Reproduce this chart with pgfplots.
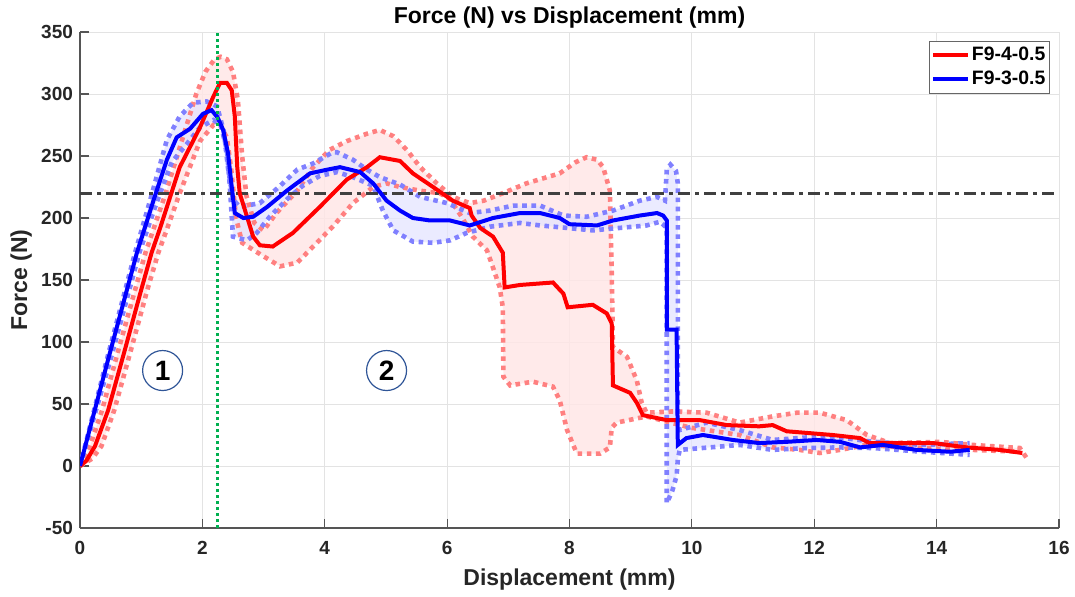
\documentclass[border=0pt]{standalone}
\usepackage{fontspec}
\setmainfont{Liberation Sans}
\usepackage{pgfplots}
\pgfplotsset{compat=1.18}
\usepgfplotslibrary{fillbetween}
\definecolor{redband}{HTML}{FF8080}
\definecolor{blueband}{HTML}{8080FF}
\definecolor{redfill}{HTML}{FFE6E6}
\definecolor{bluefill}{HTML}{E3E3FF}
\definecolor{axcol}{HTML}{555555}
\definecolor{gridcol}{HTML}{E3E3E3}
\definecolor{txtcol}{HTML}{262626}
\definecolor{circcol}{HTML}{2F5597}
\definecolor{greenline}{HTML}{00B050}
\definecolor{refline}{HTML}{404040}

\begin{document}
\begin{tikzpicture}
\begin{axis}[
    at={(0,0)}, anchor=south west,
    scale only axis, width=489.5pt, height=248pt,
    xmin=0, xmax=16, ymin=-50, ymax=350,
    xtick={0,2,...,16}, ytick={-50,0,...,350},
    xticklabels={0,2,4,6,8,10,12,14,16},
    yticklabels={-50,0,50,100,150,200,250,300,350},
    axis x line*=bottom, axis y line*=left,
    axis line style={draw=axcol, line width=0.6pt},
    tick style={draw=axcol, line width=0.6pt},
    tick align=inside, major tick length=4.5pt,
    grid=major, grid style={gridcol, line width=0.5pt},
    ticklabel style={font=\fontsize{9.5}{10}\selectfont\bfseries, text=txtcol},
    xticklabel style={yshift=-3pt},
    title={Force (N) vs Displacement (mm)},
    title style={font=\fontsize{11.5}{13}\selectfont\bfseries, text=black,
        at={(axis description cs:0.5,1)}, anchor=center, yshift=1pt},
    xlabel={Displacement (mm)},
    xlabel style={font=\fontsize{11.5}{13}\selectfont\bfseries, text=txtcol,
        at={(axis description cs:0.5,0)}, anchor=center, yshift=-26pt},
    ylabel={Force (N)},
    ylabel style={font=\fontsize{11.5}{13}\selectfont\bfseries, text=txtcol,
        at={(axis description cs:-0.06,0.5)}, anchor=center, rotate=0},
    legend style={at={(0.991,0.982)}, anchor=north east,
        draw=black!60, line width=0.5pt, inner sep=1pt, row sep=0pt,
        font=\fontsize{9.7}{11}\selectfont\bfseries,
        nodes={text height=7.4pt, text depth=2.2pt, inner sep=1.2pt}},
    legend cell align=left,
]
% red band (F9-4-0.5)
\addplot[name path=ru, redband, line width=2.3pt, dash pattern=on 2.3pt off 2.3pt, forget plot] coordinates {
(0,0) (0.15,14) (0.36,45) (0.63,94) (0.9,142) (1.07,172) (1.4,220) (1.7,268) (1.9,300)
(2.05,318) (2.2,328) (2.3,330) (2.4,328) (2.5,318) (2.58,295) (2.65,250) (2.72,218)
(2.85,196) (3.0,190) (3.21,204) (3.55,222) (3.81,241) (4.08,255) (4.36,262) (4.69,268)
(4.9,271) (5.12,266) (5.34,255) (5.56,241) (5.83,228) (6.09,217) (6.37,212) (6.6,214)
(6.91,220) (7.3,228) (7.84,236) (8.1,245) (8.28,249) (8.45,247) (8.55,241) (8.66,222)
(8.69,156) (8.71,96) (8.94,88) (9.1,69) (9.18,51) (9.26,43) (9.69,44) (10.24,43)
(10.78,35) (11.32,40) (11.72,43) (12.09,43) (12.53,37) (12.86,25) (13.24,18.5)
(14.05,19.5) (14.59,17) (15.36,14.5) (15.47,6.5)
};
\addplot[name path=rl, redband, line width=2.3pt, dash pattern=on 2.3pt off 2.3pt, forget plot] coordinates {
(0,0) (0.2,6) (0.35,16) (0.56,45) (0.835,94) (1.1,142) (1.28,172) (1.45,195) (1.63,220)
(1.96,262) (2.18,275) (2.3,274) (2.4,265) (2.47,240) (2.55,200) (2.65,180) (2.97,170)
(3.27,161) (3.55,164) (3.81,177) (4.13,193) (4.46,212) (4.79,225) (5.01,228) (5.23,225)
(5.56,222) (5.88,220) (6.05,215) (6.25,200) (6.42,185) (6.65,174) (6.75,160) (6.86,144)
(6.91,128) (6.92,72) (7.03,65) (7.4,68) (7.73,64) (7.84,53) (7.96,29) (8.12,10) (8.5,10)
(8.66,15) (8.69,31) (8.77,35) (9.26,40) (9.97,31) (10.78,25) (11.32,15) (11.76,13)
(12.09,10.5) (12.42,13) (12.86,17) (13.51,15) (14.59,13) (15.36,11.5)
};
\addplot[redfill, fill opacity=0.85, forget plot] fill between[of=ru and rl];
% blue band (F9-3-0.5)
\addplot[name path=bu, blueband, line width=2.3pt, dash pattern=on 2.3pt off 2.3pt, forget plot] coordinates {
(0,0) (0.45,88) (0.9,172) (1.15,215) (1.42,263) (1.63,282) (1.85,293) (2.07,294)
(2.24,290) (2.35,270) (2.42,240) (2.5,215) (2.61,209) (2.94,212) (3.25,225) (3.55,239)
(3.81,244) (4.13,253) (4.2,253) (4.46,247) (4.69,239) (4.9,233) (5.23,227) (5.56,217)
(6.0,212) (6.37,204) (6.7,206) (7.08,210) (7.52,210) (7.9,202) (8.28,201) (8.71,206)
(9.15,214) (9.43,217) (9.56,214) (9.59,239) (9.65,243) (9.74,238) (9.77,228) (9.77,35)
(9.8,29) (10.24,35) (10.78,29) (11.32,21) (11.87,23) (12.42,23) (12.96,19.5) (13.77,17)
(14.54,18.5)
};
\addplot[name path=bl, blueband, line width=2.3pt, dash pattern=on 2.3pt off 2.3pt, forget plot] coordinates {
(0,0) (0.5,86) (0.97,172) (1.25,212) (1.5,245) (1.75,260) (1.96,273) (2.18,279)
(2.3,275) (2.4,255) (2.45,225) (2.5,185) (2.73,182) (2.89,188) (3.1,201) (3.38,215)
(3.64,226) (3.92,234) (4.2,237) (4.46,233) (4.79,226) (4.95,206) (5.12,190) (5.44,181)
(5.77,180) (6.05,182) (6.32,188) (6.7,193) (7.19,196) (7.52,194) (7.96,192) (8.38,190)
(8.82,192) (9.26,194) (9.48,197) (9.59,192) (9.59,-30) (9.68,-20) (9.75,-8) (9.77,5)
(9.8,13) (10.78,17) (11.32,13) (11.87,14.5) (12.42,15) (12.96,14.5) (13.77,11.5)
(14.54,9)
};
\addplot[bluefill, fill opacity=0.7, forget plot] fill between[of=bu and bl];
% 220 N reference line
\addplot[refline, line width=1.6pt, dash pattern=on 6pt off 2.5pt on 2pt off 2.5pt, forget plot]
    coordinates {(0,220) (16,220)};
% mean curves
\addplot[red, line width=2pt] coordinates {
(0,0) (0.1,4) (0.245,16) (0.46,45) (0.735,94) (1.0,142) (1.17,172) (1.31,192) (1.63,241)
(1.96,273) (2.18,298) (2.29,309) (2.40,309) (2.48,303) (2.53,282) (2.57,241) (2.61,220)
(2.73,201) (2.83,185) (2.94,178) (3.15,177) (3.48,188) (3.92,209) (4.36,231) (4.69,241)
(4.90,249) (5.23,246) (5.44,236) (5.77,225) (6.09,214) (6.37,208) (6.40,202) (6.54,192)
(6.75,185) (6.91,172) (6.94,144) (7.19,146) (7.73,148) (7.9,139) (7.97,128) (8.38,130)
(8.61,123) (8.69,115) (8.71,65) (8.99,59) (9.1,51) (9.2,41) (9.59,37) (10.13,37)
(10.57,33) (11.1,32) (11.32,33) (11.55,28) (12.3,25) (12.75,22.5) (12.9,18.5)
(13.94,18.5) (14.49,15) (15.03,13) (15.4,10.5)
};
\addlegendentry{F9-4-0.5}
\addplot[blue, line width=2pt] coordinates {
(0,0) (0.46,86) (0.93,172) (1.2,214) (1.42,247) (1.58,265) (1.8,272) (2.01,284)
(2.15,287) (2.25,281) (2.34,271) (2.42,252) (2.48,225) (2.53,204) (2.67,200) (2.83,201)
(3.06,209) (3.38,222) (3.76,236) (4.04,239) (4.25,241) (4.58,237) (4.79,228) (5.01,214)
(5.23,206) (5.44,200) (5.72,198) (6.05,198) (6.37,194) (6.75,200) (7.19,204) (7.52,204)
(7.84,200) (8.0,195) (8.45,194) (8.71,198) (9.15,202) (9.43,204) (9.53,202) (9.59,198)
(9.59,110) (9.75,110) (9.77,17) (9.91,22.5) (10.18,25) (10.67,21) (11.1,18.5)
(11.55,19.5) (12.04,21) (12.42,19.5) (12.75,15) (13.12,17) (13.67,13) (14.22,11.5)
(14.54,13)
};
\addlegendentry{F9-3-0.5}
% elastic limit marker
\addplot[greenline, line width=1.5pt, dash pattern=on 1.5pt off 1.5pt, forget plot]
    coordinates {(2.24,-50) (2.24,350)};
% region labels
\node[circle, draw=circcol, line width=0.6pt, minimum size=20pt, inner sep=0pt,
    font=\fontsize{14}{14}\selectfont\bfseries] at (axis cs:1.35,77) {1};
\node[circle, draw=circcol, line width=0.6pt, minimum size=20pt, inner sep=0pt,
    font=\fontsize{14}{14}\selectfont\bfseries] at (axis cs:5.01,77) {2};
\end{axis}
\pgfresetboundingbox
\path[use as bounding box] (-40pt,-34pt) rectangle (497.5pt,264pt);
\end{tikzpicture}
\end{document}
